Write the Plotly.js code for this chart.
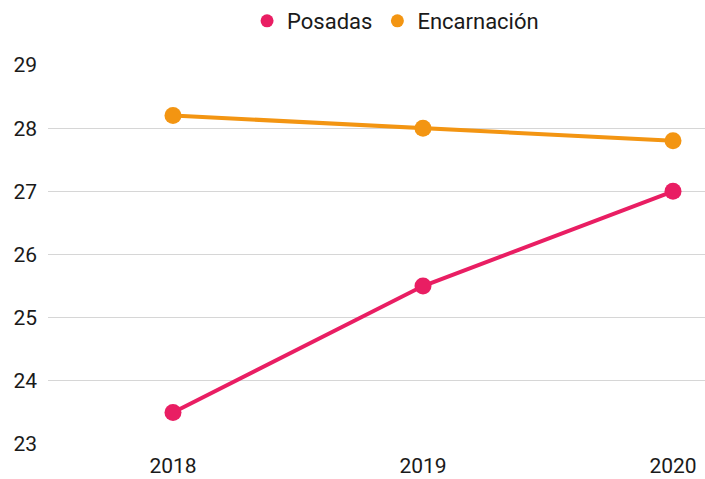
<!DOCTYPE html>
<html>
<head>
<meta charset="utf-8">
<script src="https://cdn.plot.ly/plotly-3.0.1.min.js"></script>
<style>html,body{margin:0;padding:0;background:#fff;}#chart{width:705px;height:479px;}</style>
</head>
<body>
<div id="chart"></div>
<script>
const years = [2018, 2019, 2020];
const posadas = [23.5, 25.5, 27.0];
const encarnacion = [28.2, 28.0, 27.8];
const seriesNames = ['Posadas', 'Encarnación'];
const colors = ['#E91E63', '#F39512'];

const mk = (y, i) => ({
  x: years, y: y, type: 'scatter', mode: 'lines+markers', name: seriesNames[i],
  showlegend: false,
  line: {color: colors[i], width: 4},
  marker: {color: colors[i], size: 17}
});
const legendDummy = (i) => ({
  x: [null], y: [null], type: 'scatter', mode: 'markers', name: seriesNames[i],
  marker: {color: colors[i], size: 13}, showlegend: true, hoverinfo: 'skip'
});

const data = [mk(encarnacion, 1), mk(posadas, 0), legendDummy(0), legendDummy(1)];

const layout = {
  width: 705, height: 479,
  margin: {l: 48, r: 0, t: 65, b: 35},
  paper_bgcolor: '#fff', plot_bgcolor: '#fff',
  font: {family: 'Roboto, sans-serif', size: 21, color: '#1a1a1a'},
  showlegend: true,
  legend: {orientation: 'h', x: 0.529, xref: 'paper', xanchor: 'center', y: 1.0, yref: 'container', yanchor: 'top',
           font: {size: 22, color: '#1a1a1a'}, itemwidth: 20, tracegroupgap: 0, traceorder: 'normal'},
  xaxis: {range: [2017.5, 2020.128], tickvals: years, ticktext: years.map(String),
          showgrid: false, zeroline: false, showline: false, ticks: '', ticklabelstandoff: 7, fixedrange: true},
  yaxis: {range: [23, 29], dtick: 1, tick0: 23, showgrid: true, gridcolor: '#d6d6d6', gridwidth: 1,
          zeroline: false, showline: false, ticks: '', ticklabelstandoff: 10, fixedrange: true}
};

Plotly.newPlot('chart', data, layout, {displayModeBar: false, staticPlot: true});
</script>
</body>
</html>
